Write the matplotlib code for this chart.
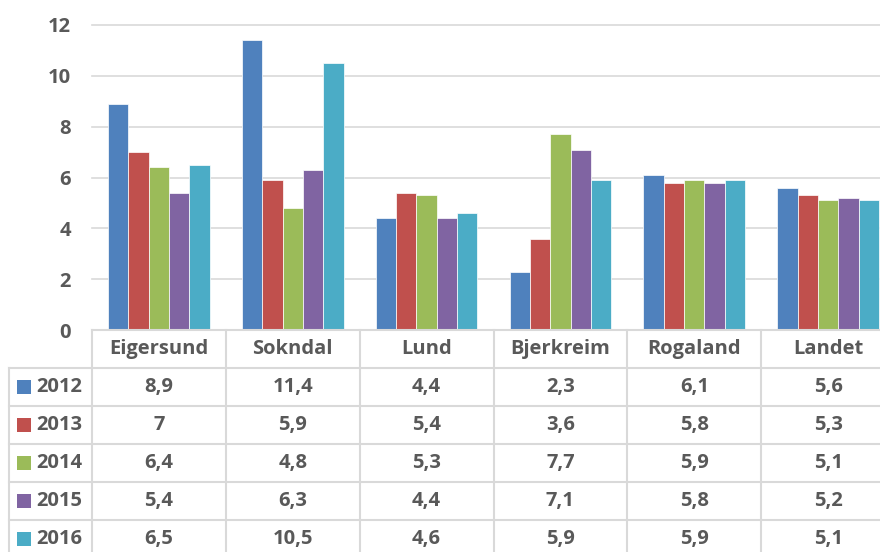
import matplotlib
matplotlib.use("Agg")
import matplotlib.pyplot as plt
from matplotlib.patches import Rectangle
from matplotlib.lines import Line2D

categories = ["Eigersund", "Sokndal", "Lund", "Bjerkreim", "Rogaland", "Landet"]
years = ["2012", "2013", "2014", "2015", "2016"]
v2012 = [8.9, 11.4, 4.4, 2.3, 6.1, 5.6]
v2013 = [7.0, 5.9, 5.4, 3.6, 5.8, 5.3]
v2014 = [6.4, 4.8, 5.3, 7.7, 5.9, 5.1]
v2015 = [5.4, 6.3, 4.4, 7.1, 5.8, 5.2]
v2016 = [6.5, 10.5, 4.6, 5.9, 5.9, 5.1]
series = [v2012, v2013, v2014, v2015, v2016]
yticks = [0, 2, 4, 6, 8, 10, 12]

colors = ["#4F81BD", "#C0504D", "#9BBB59", "#8064A2", "#4BACC6"]
TXT = "#595959"
GRID = "#D9D9D9"
FONT = "Open Sans"
FS = 14.5

W, H = 880, 552
fig = plt.figure(figsize=(W / 100, H / 100), dpi=100)
ax_left, ax_right, ax_top, ax_bot = 92, 895, 25, 330
ax = fig.add_axes([ax_left / W, 1 - ax_bot / H, (ax_right - ax_left) / W, (ax_bot - ax_top) / H])
ax.patch.set_visible(False)

n = len(categories)
xs = list(range(n))
bw = 0.152
for j, vals in enumerate(series):
    ax.bar([x + (j - 2) * bw for x in xs], vals, width=bw, color=colors[j],
           edgecolor="white", linewidth=0.5, zorder=3)

ax.set_xlim(-0.5, n - 0.5)
ax.set_ylim(0, 12)
ax.set_yticks(yticks)
ax.set_yticklabels([str(t) for t in yticks], fontsize=FS, fontweight="bold",
                   color=TXT, family=FONT)
ax.tick_params(axis="y", length=0, pad=15)
ax.set_xticks([])
for s in ax.spines.values():
    s.set_visible(False)
ax.yaxis.grid(True, color=GRID, linewidth=1.2, zorder=0)
ax.set_axisbelow(True)
for gl in ax.get_ygridlines():
    gl.set_clip_on(False)


# data table below (figure pixel coordinates)
def fx(px):
    return px / W


def fy(py):
    return 1 - py / H


def col_px(i):
    return ax_left + i * (ax_right - ax_left) / n


row_edges = [330, 368, 406, 444, 482, 520, 558]
lw = 1.5
fig.add_artist(Line2D([fx(ax_left), 1.0], [fy(row_edges[0])] * 2, color=GRID, lw=lw))
for py in row_edges[1:]:
    fig.add_artist(Line2D([fx(9), 1.0], [fy(py)] * 2, color=GRID, lw=lw))
for i in range(n + 1):
    fig.add_artist(Line2D([fx(col_px(i))] * 2, [fy(row_edges[0]), fy(row_edges[-1])],
                          color=GRID, lw=lw))
fig.add_artist(Line2D([fx(9)] * 2, [fy(row_edges[1]), fy(row_edges[-1])], color=GRID, lw=lw))

tkw = dict(fontsize=FS, fontweight="bold", color=TXT, family=FONT)
hy = (row_edges[0] + row_edges[1]) / 2
for i, c in enumerate(categories):
    fig.text(fx(col_px(i + 0.5)), fy(hy), c, ha="center", va="center", **tkw)

for r, (yr, vals) in enumerate(zip(years, series)):
    cy = (row_edges[r + 1] + row_edges[r + 2]) / 2
    fig.add_artist(Rectangle((fx(17), fy(cy + 7)), 14 / W, 14 / H, transform=fig.transFigure,
                             facecolor=colors[r], edgecolor="none"))
    fig.text(fx(36), fy(cy), yr, ha="left", va="center", **tkw)
    for i, v in enumerate(vals):
        s = f"{v:g}".replace(".", ",")
        fig.text(fx(col_px(i + 0.5)), fy(cy), s, ha="center", va="center", **tkw)

fig.savefig("out.png", dpi=100)
